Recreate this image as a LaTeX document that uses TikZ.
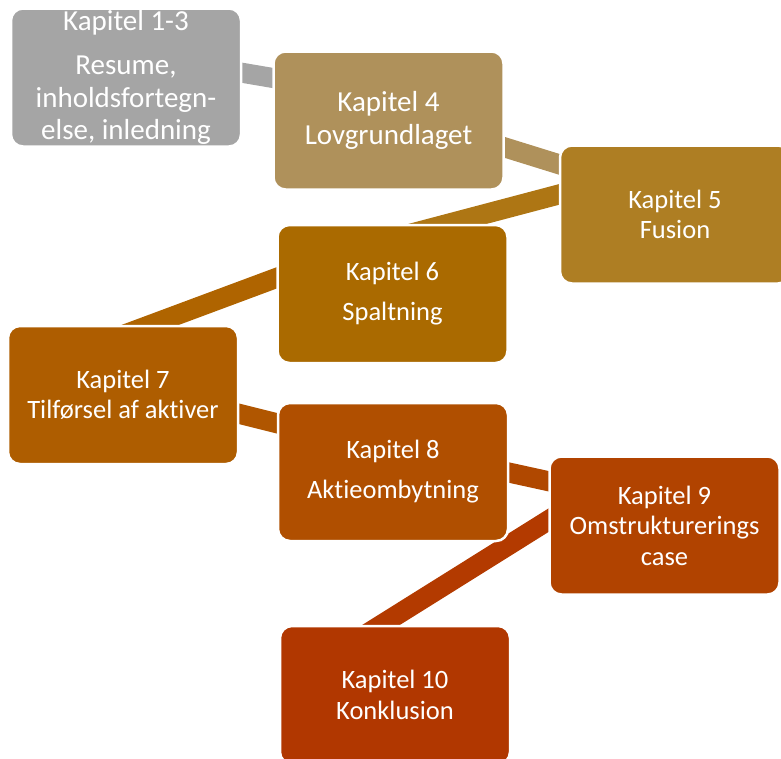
\documentclass[tikz,border=0pt]{standalone}
\usepackage{fontspec}
\setmainfont{Carlito}[Ligatures=NoCommon]
\usetikzlibrary{calc}

% box fills
\definecolor{boxA}{HTML}{A5A5A5}
\definecolor{boxB}{HTML}{AF915B}
\definecolor{boxC}{HTML}{AE7E23}
\definecolor{boxD}{HTML}{AA6A00}
\definecolor{boxE}{HTML}{AE5D00}
\definecolor{boxF}{HTML}{B04F00}
\definecolor{boxG}{HTML}{B14300}
\definecolor{boxH}{HTML}{B13700}
% band fills
\definecolor{bandA}{HTML}{A5A5A5}
\definecolor{bandB}{HTML}{AF915B}
\definecolor{bandC}{HTML}{AE7614}
\definecolor{bandD}{HTML}{AF6400}
\definecolor{bandE}{HTML}{B05600}
\definecolor{bandF}{HTML}{B04800}
\definecolor{bandG}{HTML}{B33A00}

\tikzset{
  chapter/.style={draw=white, line width=2.5pt, rounded corners=12pt,
    minimum width=230pt, minimum height=138pt, inner sep=0pt,
    align=center, text=white,
    font=\fontsize{26.5}{30.5}\selectfont},
  bigtext/.style={font=\fontsize{29}{32.5}\selectfont},
  band/.style={line width=20pt, line cap=butt}
}

\begin{document}
\begin{tikzpicture}[x=1pt, y=-1pt]
\useasboundingbox (0,0) rectangle (781,758);
\clip (0,0) rectangle (781,758);

% box centres, so the bands can be laid out before the boxes
\path
  (126,77.5)   coordinate (p1)
  (388.5,120.5) coordinate (p2)
  (675,214.5)  coordinate (p3)
  (392.5,294)  coordinate (p4)
  (123,395)    coordinate (p5)
  (393,472)    coordinate (p6)
  (664.5,525.5) coordinate (p7)
  (395,695)    coordinate (p8);

% connecting bands, behind the boxes
\draw[band, bandA] ($(p1)+(74,-11.9)$)  -- ($(p2)+(-68.5,-34.5)$);
\draw[band, bandB] ($(p2)+(71.5,13)$)   -- ($(p3)+(-75,-37.5)$);
\draw[band, bandC] ($(p3)+(-75,-30.9)$) -- ($(p4)+(-81.5,-34)$);
\draw[band, bandD] ($(p4)+(-62.5,-36)$) -- ($(p5)+(-67,-35)$);
\draw[band, bandE] ($(p5)+(77,9)$)      -- ($(p6)+(-73,-38)$);
\draw[band, bandF] ($(p6)+(77,-8)$)     -- ($(p7)+(-64.5,-33)$);
\draw[band, bandG] ($(p7)+(-64.5,-37.5)$) -- ($(p8)+(-70,-35)$);

% chapter boxes
\node[chapter, bigtext, fill=boxA] (b1) at (p1)
  {Kapitel 1-3\\[12pt]Resume,\\inholdsfortegn-\\else, inledning};
\node[chapter, bigtext, fill=boxB] (b2) at (p2) {Kapitel 4\\Lovgrundlaget};
\node[chapter, fill=boxC] (b3) at (p3) {Kapitel 5\\Fusion};
\node[chapter, fill=boxD] (b4) at (p4) {Kapitel 6\\[9.5pt]Spaltning};
\node[chapter, fill=boxE] (b5) at (p5) {Kapitel 7\\Tilførsel af aktiver};
\node[chapter, fill=boxF] (b6) at (p6) {Kapitel 8\\[9.5pt]Aktieombytning};
\node[chapter, fill=boxG] (b7) at (p7) {Kapitel 9\\Omstrukturerings\\case};
\node[chapter, fill=boxH] (b8) at (p8) {Kapitel 10\\Konklusion};
\end{tikzpicture}
\end{document}
